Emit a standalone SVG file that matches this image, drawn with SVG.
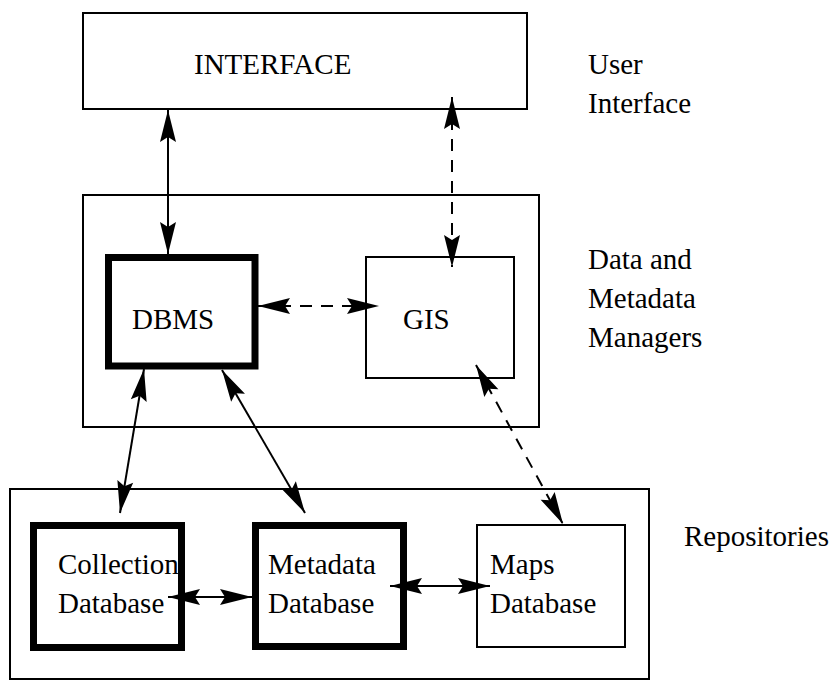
<svg xmlns="http://www.w3.org/2000/svg" width="836" height="680" viewBox="0 0 836 680">
<style>
text{font-size:29px;fill:#000}
.box{fill:#fff;stroke:#000;stroke-width:2}
.thick{fill:#fff;stroke:#000;stroke-width:7}
.cont{fill:none;stroke:#000;stroke-width:2}
.c{fill:none;stroke:#000;stroke-width:2;marker-start:url(#ah);marker-end:url(#ah)}
.d{stroke-dasharray:12 9}
</style>
<defs>
<marker id="ah" markerUnits="userSpaceOnUse" viewBox="-34 -10 36 20" markerWidth="36" markerHeight="20" refX="0" refY="0" orient="auto-start-reverse" overflow="visible">
<path d="M0,0 L-32,-8 L-27,0 L-32,8 Z" fill="#000" stroke="none"/>
</marker>
</defs>
<g font-family="Liberation Serif, Times New Roman, DejaVu Serif, serif">
<g id="containers">
<rect id="managers" class="cont" x="83" y="195" width="456" height="232"/>
<rect id="repositories" class="cont" x="10" y="489" width="639" height="190"/>
</g>
<g id="interface"><rect class="box" x="83" y="13" width="444" height="96"/><text x="194" y="74">INTERFACE</text></g>
<g id="dbms"><rect class="thick" x="108.5" y="257.5" width="146.5" height="108.5"/><text x="132" y="329">DBMS</text></g>
<g id="gis"><rect class="box" x="366" y="257" width="148" height="121"/><text x="403" y="329">GIS</text></g>
<g id="collection"><rect class="thick" x="33.5" y="525.5" width="148" height="122"/><text x="58" y="574">Collection</text><text x="58" y="613">Database</text></g>
<g id="metadata"><rect class="thick" x="255.5" y="525.5" width="148" height="121"/><text x="268" y="574">Metadata</text><text x="268" y="613">Database</text></g>
<g id="maps"><rect class="box" x="477" y="525" width="148" height="122"/><text x="490" y="574">Maps</text><text x="490" y="613">Database</text></g>
<g id="labels">
<text x="588" y="74">User</text><text x="588" y="113">Interface</text>
<text x="588" y="269">Data and</text><text x="588" y="308">Metadata</text><text x="588" y="347">Managers</text>
<text x="684" y="546">Repositories</text>
</g>
<g id="connectors">
<line class="c" x1="168" y1="110" x2="168" y2="254"/>
<line class="c d" x1="452" y1="97" x2="452" y2="267"/>
<line class="c d" x1="258" y1="306" x2="379" y2="306"/>
<line class="c" x1="144" y1="369" x2="120" y2="513"/>
<line class="c" x1="222" y1="370" x2="305" y2="513"/>
<line class="c d" x1="476" y1="365" x2="563" y2="524"/>
<line class="c" x1="168" y1="597" x2="252" y2="597"/>
<line class="c" x1="390" y1="586" x2="490" y2="586"/>
</g>
</g>
</svg>
